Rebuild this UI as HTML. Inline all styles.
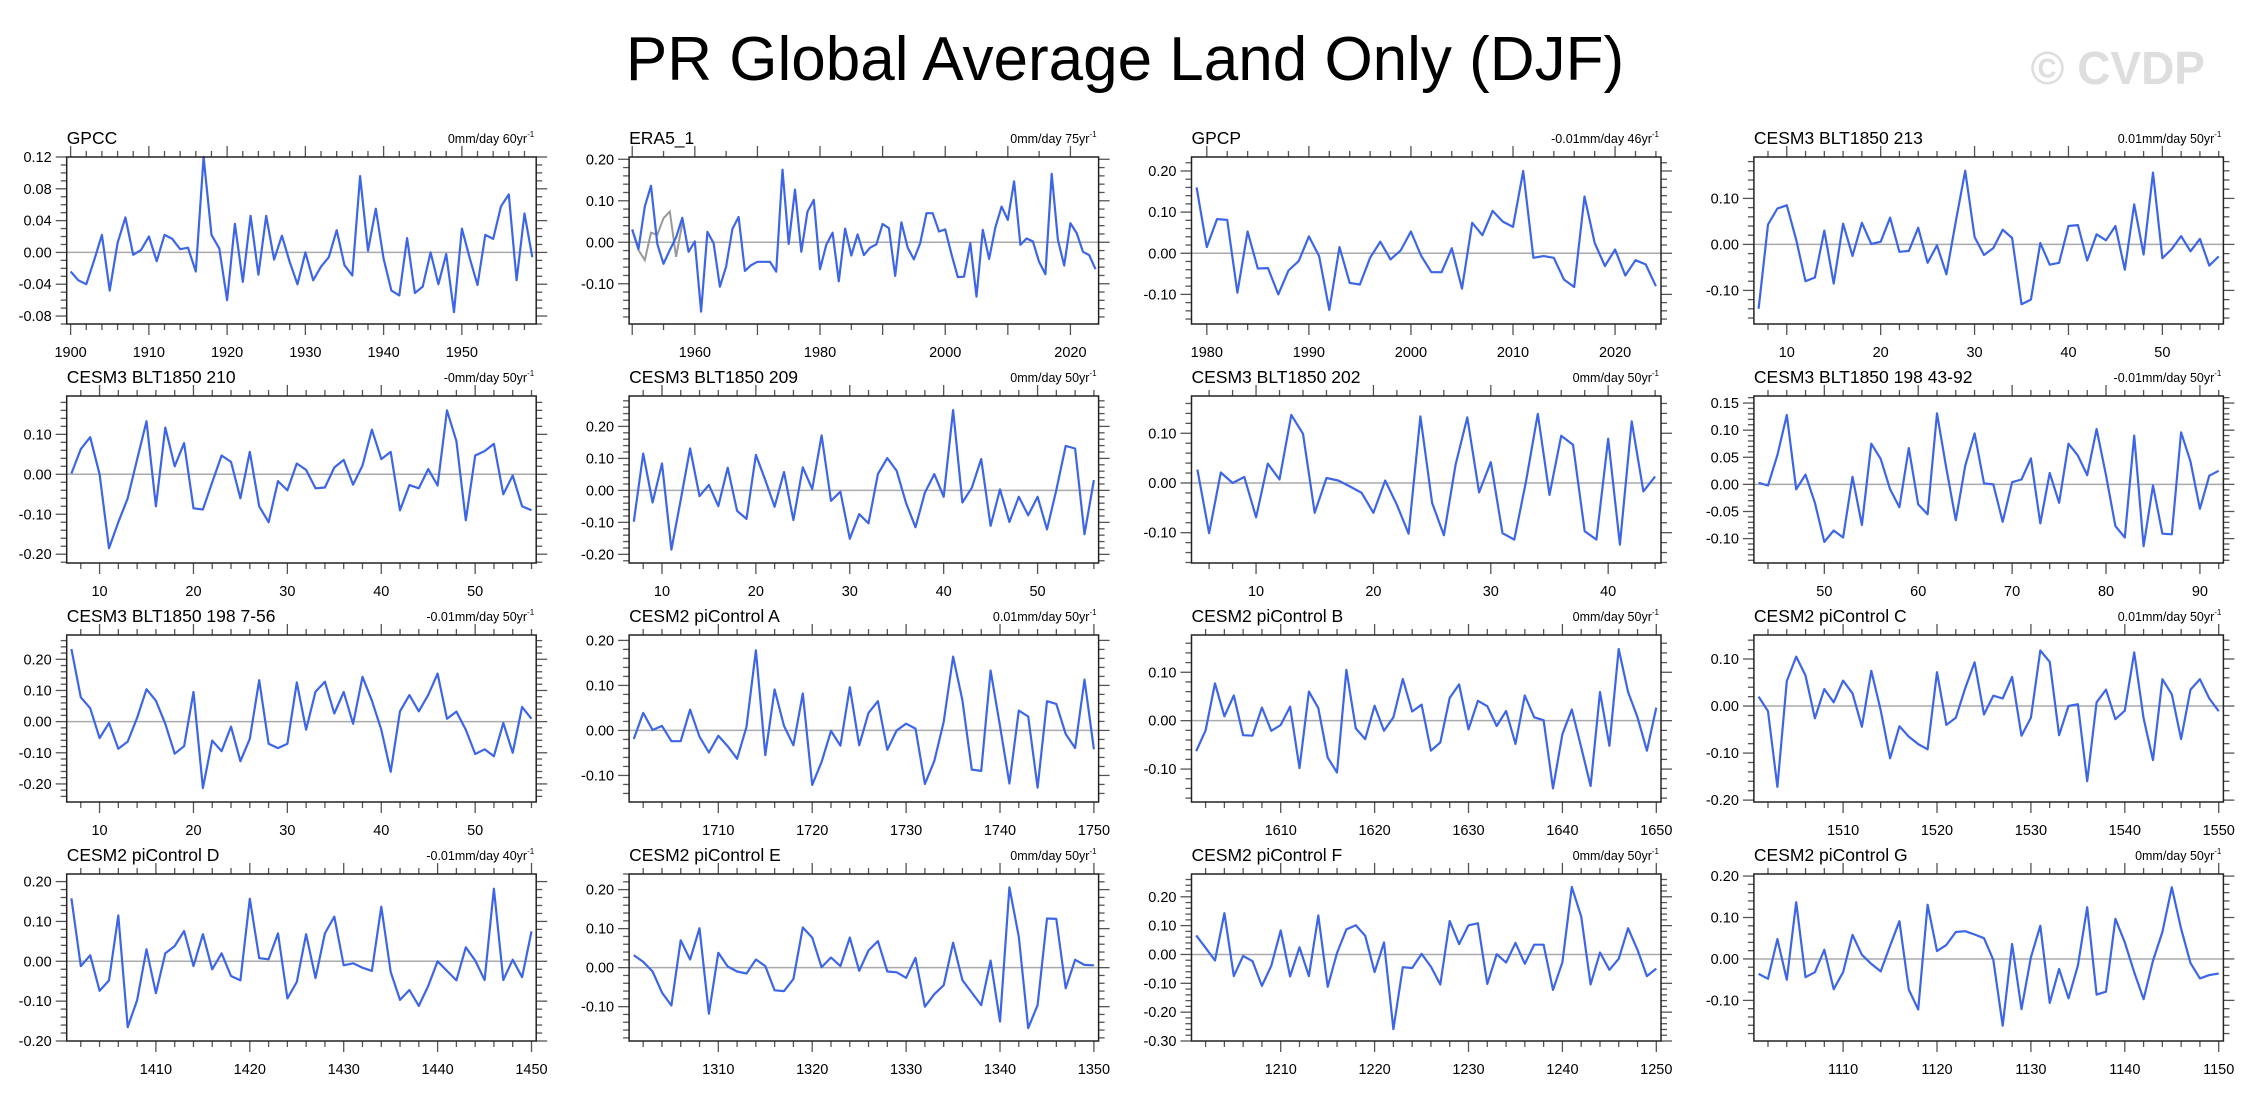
<!DOCTYPE html>
<html><head><meta charset="utf-8"><style>
html,body{margin:0;padding:0;background:#fff;}
svg{display:block;font-family:"Liberation Sans",Arial,sans-serif;}
</style></head><body>
<svg id="chart" width="2250" height="1103" viewBox="0 0 2250 1103" xmlns="http://www.w3.org/2000/svg">
<rect width="2250" height="1103" fill="#fff"/>
<text x="1125" y="80" text-anchor="middle" font-size="62" fill="#000">PR Global Average Land Only (DJF)</text>
<text x="2205" y="84" text-anchor="end" font-size="46" font-weight="bold" fill="#dedede">© CVDP</text>
</svg>
<script>
const titles = ["GPCC","ERA5_1","GPCP","CESM3 BLT1850 213","CESM3 BLT1850 210","CESM3 BLT1850 209","CESM3 BLT1850 202","CESM3 BLT1850 198 43-92","CESM3 BLT1850 198 7-56","CESM2 piControl A","CESM2 piControl B","CESM2 piControl C","CESM2 piControl D","CESM2 piControl E","CESM2 piControl F","CESM2 piControl G"];
const trendValues = ["0","0","-0.01","0.01","-0","0","0","-0.01","-0.01","0.01","0","0.01","-0.01","0","0","0"];
const trendYears = [60,75,46,50,50,50,50,50,50,50,50,50,40,50,50,50];
const startYears = [1900,1950,1979,7,7,7,5,43,7,1701,1601,1501,1401,1301,1201,1101];
const yMins = [-0.09,-0.197,-0.172,-0.173,-0.222,-0.227,-0.161,-0.145,-0.258,-0.159,-0.168,-0.204,-0.2,-0.188,-0.30,-0.198];
const yMaxs = [0.12,0.2055,0.234,0.19,0.196,0.295,0.175,0.163,0.278,0.212,0.177,0.151,0.219,0.240,0.279,0.205];
const yTickSteps = [0.04,0.1,0.1,0.1,0.1,0.1,0.1,0.05,0.1,0.1,0.1,0.1,0.1,0.1,0.1,0.1];
const xLabelSteps = [10,20,10,10,10,10,10,10,10,10,10,10,10,10,10,10];
const xMinorSteps = [2,5,2,2,2,2,2,2,2,2,2,2,2,2,2,2];

const gpcc = [-0.024,-0.035,-0.040,-0.01,0.022,-0.048,0.012,0.044,-0.003,0.003,0.020,-0.011,0.022,0.017,0.004,0.006,-0.024,0.12,0.022,0.005,-0.060,0.036,-0.037,0.046,-0.028,0.046,-0.009,0.021,-0.012,-0.040,0.000,-0.035,-0.018,-0.006,0.028,-0.016,-0.029,0.096,0.002,0.055,-0.008,-0.048,-0.054,0.018,-0.051,-0.043,0.000,-0.040,-0.002,-0.075,0.030,-0.007,-0.041,0.022,0.017,0.058,0.073,-0.035,0.049,-0.006];
const era5 = [0.031,-0.016,0.086,0.136,-0.004,-0.052,-0.019,0.012,0.059,-0.023,0.002,-0.167,0.025,-0.002,-0.107,-0.059,0.032,0.061,-0.069,-0.055,-0.047,-0.047,-0.047,-0.071,0.175,-0.004,0.127,-0.023,0.074,0.102,-0.065,-0.006,0.023,-0.094,0.033,-0.032,0.019,-0.031,-0.013,-0.005,0.044,0.034,-0.081,0.048,-0.013,-0.041,-0.002,0.070,0.070,0.026,0.031,-0.029,-0.084,-0.083,-0.002,-0.131,0.030,-0.040,0.035,0.086,0.054,0.147,-0.006,0.009,0.002,-0.047,-0.077,0.165,0.006,-0.056,0.046,0.022,-0.023,-0.031,-0.065];
const era5Gray = [0.03,-0.019,-0.043,0.023,0.018,0.058,0.074,-0.035,0.046];
const gpcp = [0.160,0.015,0.083,0.081,-0.096,0.053,-0.037,-0.036,-0.100,-0.042,-0.019,0.041,-0.007,-0.138,0.015,-0.072,-0.076,-0.011,0.028,-0.015,0.007,0.053,-0.006,-0.046,-0.046,0.012,-0.086,0.074,0.044,0.103,0.077,0.064,0.200,-0.011,-0.007,-0.011,-0.064,-0.082,0.138,0.025,-0.031,0.009,-0.054,-0.017,-0.027,-0.080];
const blt213 = [-0.14,0.043,0.078,0.085,0.01,-0.08,-0.072,0.03,-0.085,0.045,-0.025,0.047,0.001,0.006,0.058,-0.016,-0.014,0.036,-0.04,-0.002,-0.065,0.05,0.16,0.016,-0.023,-0.008,0.032,0.014,-0.13,-0.12,0.003,-0.044,-0.04,0.04,0.042,-0.035,0.022,0.009,0.04,-0.055,0.087,-0.022,0.156,-0.03,-0.01,0.018,-0.015,0.012,-0.046,-0.026];
const blt210 = [0.002,0.063,0.093,0.0,-0.185,-0.12,-0.06,0.037,0.133,-0.08,0.117,0.02,0.078,-0.085,-0.088,-0.02,0.047,0.031,-0.06,0.056,-0.08,-0.12,-0.017,-0.04,0.027,0.011,-0.035,-0.033,0.017,0.036,-0.026,0.022,0.112,0.038,0.056,-0.09,-0.027,-0.035,0.013,-0.028,0.16,0.083,-0.115,0.047,0.058,0.076,-0.05,-0.003,-0.08,-0.09];
const blt209 = [-0.098,0.115,-0.038,0.084,-0.185,-0.030,0.131,-0.018,0.017,-0.049,0.071,-0.064,-0.089,0.111,0.032,-0.051,0.057,-0.093,0.072,0.004,0.172,-0.033,-0.004,-0.151,-0.074,-0.103,0.051,0.101,0.061,-0.04,-0.115,-0.007,0.051,-0.02,0.251,-0.038,0.008,0.098,-0.111,0.003,-0.099,-0.02,-0.078,-0.02,-0.122,0.001,0.139,0.131,-0.137,0.032];
const blt202 = [0.027,-0.101,0.021,0.0,0.012,-0.069,0.039,0.007,0.137,0.099,-0.060,0.010,0.005,-0.007,-0.020,-0.060,0.005,-0.044,-0.102,0.134,-0.040,-0.105,0.037,0.132,-0.019,0.042,-0.101,-0.114,0.003,0.139,-0.024,0.095,0.077,-0.097,-0.114,0.089,-0.124,0.124,-0.017,0.013];
const blt198a = [0.003,-0.002,0.054,0.128,-0.009,0.018,-0.034,-0.106,-0.085,-0.098,0.014,-0.075,0.075,0.047,-0.009,-0.042,0.067,-0.037,-0.055,0.131,0.029,-0.066,0.034,0.094,0.002,0.0,-0.069,0.004,0.009,0.048,-0.072,0.021,-0.034,0.075,0.053,0.017,0.102,0.017,-0.077,-0.098,0.090,-0.114,-0.002,-0.091,-0.092,0.096,0.042,-0.045,0.016,0.025];
const blt198b = [0.233,0.078,0.043,-0.053,-0.004,-0.087,-0.064,0.012,0.104,0.067,-0.007,-0.103,-0.079,0.095,-0.213,-0.061,-0.095,-0.016,-0.127,-0.055,0.133,-0.071,-0.085,-0.071,0.126,-0.026,0.096,0.128,0.026,0.095,-0.007,0.144,0.067,-0.026,-0.161,0.033,0.085,0.033,0.085,0.154,0.009,0.032,-0.026,-0.104,-0.089,-0.111,-0.004,-0.100,0.047,0.009];
const picA = [-0.019,0.039,0.001,0.01,-0.024,-0.024,0.046,-0.014,-0.049,-0.012,-0.035,-0.063,0.008,0.178,-0.055,0.091,0.010,-0.033,0.082,-0.121,-0.070,-0.001,-0.034,0.096,-0.033,0.039,0.065,-0.043,0.0,0.015,0.004,-0.119,-0.068,0.019,0.164,0.067,-0.087,-0.090,0.133,0.01,-0.118,0.044,0.031,-0.127,0.065,0.059,-0.008,-0.039,0.113,-0.042];
const picB = [-0.063,-0.020,0.077,0.009,0.052,-0.030,-0.031,0.027,-0.021,-0.009,0.029,-0.098,0.060,0.026,-0.076,-0.107,0.105,-0.016,-0.038,0.031,-0.021,0.007,0.086,0.019,0.033,-0.062,-0.045,0.047,0.075,-0.018,0.041,0.030,-0.011,0.020,-0.048,0.052,0.007,0.001,-0.140,-0.028,0.023,-0.055,-0.135,0.059,-0.052,0.148,0.059,0.007,-0.062,0.027];
const picC = [0.020,-0.011,-0.172,0.053,0.105,0.065,-0.026,0.036,0.008,0.054,0.027,-0.044,0.075,-0.009,-0.111,-0.043,-0.065,-0.081,-0.092,0.072,-0.040,-0.025,0.038,0.093,-0.018,0.022,0.016,0.062,-0.063,-0.025,0.118,0.094,-0.062,0.0,0.004,-0.160,0.008,0.035,-0.028,-0.010,0.114,-0.026,-0.115,0.057,0.025,-0.070,0.035,0.057,0.016,-0.011];
const picD = [0.158,-0.012,0.015,-0.074,-0.048,0.115,-0.165,-0.098,0.03,-0.08,0.02,0.038,0.076,-0.012,0.068,-0.02,0.02,-0.037,-0.048,0.157,0.008,0.005,0.07,-0.093,-0.052,0.068,-0.042,0.07,0.112,-0.01,-0.005,-0.016,-0.024,0.137,-0.027,-0.097,-0.072,-0.112,-0.062,0.0,-0.024,-0.048,0.035,0.002,-0.047,0.182,-0.047,0.004,-0.04,0.075];
const picE = [0.032,0.015,-0.010,-0.064,-0.097,0.070,0.021,0.101,-0.118,0.038,0.003,-0.010,-0.015,0.021,0.004,-0.058,-0.060,-0.029,0.103,0.077,0.001,0.026,0.004,0.077,-0.008,0.044,0.068,-0.010,-0.012,-0.026,0.025,-0.100,-0.068,-0.045,0.064,-0.032,-0.064,-0.096,0.018,-0.138,0.206,0.079,-0.155,-0.096,0.126,0.125,-0.053,0.020,0.007,0.006];
const picF = [0.066,0.023,-0.021,0.143,-0.075,-0.005,-0.023,-0.109,-0.039,0.083,-0.076,0.025,-0.075,0.135,-0.112,0.005,0.087,0.101,0.065,-0.061,0.042,-0.259,-0.044,-0.047,0.002,-0.042,-0.104,0.116,0.036,0.101,0.108,-0.102,0.001,-0.028,0.040,-0.032,0.034,0.034,-0.123,-0.027,0.234,0.132,-0.104,0.007,-0.053,-0.015,0.091,0.016,-0.075,-0.049];
const picG = [-0.036,-0.048,0.048,-0.050,0.137,-0.044,-0.032,0.022,-0.073,-0.032,0.058,0.010,-0.012,-0.030,0.032,0.091,-0.074,-0.122,0.131,0.019,0.034,0.065,0.067,0.059,0.050,-0.002,-0.161,0.036,-0.121,0.004,0.080,-0.106,-0.024,-0.095,-0.016,0.125,-0.086,-0.079,0.097,0.040,-0.032,-0.097,-0.004,0.065,0.173,0.073,-0.010,-0.047,-0.039,-0.035];

const seriesList = [gpcc,era5,gpcp,blt213,blt210,blt209,blt202,blt198a,blt198b,picA,picB,picC,picD,picE,picF,picG];
const panelNames = ["gpcc","era5","gpcp","blt213","blt210","blt209","blt202","blt198-43-92","blt198-7-56","picontrol-a","picontrol-b","picontrol-c","picontrol-d","picontrol-e","picontrol-f","picontrol-g"];

const NS = "http://www.w3.org/2000/svg";
const svg = document.getElementById("chart");
function mk(tag, attrs, parent){ const e=document.createElementNS(NS,tag); for(const k in attrs) e.setAttribute(k,attrs[k]); (parent||svg).appendChild(e); return e; }

const colLeft0 = 66.7, colStep = 562.4, boxW = 469.5;
const rowTop0 = 157, rowStep = 239, boxH = 167;

seriesList.forEach((vals, i) => {
  const col = i % 4, row = Math.floor(i / 4);
  const L = colLeft0 + col*colStep, T = rowTop0 + row*rowStep, R = L + boxW, B = T + boxH;
  const x0 = startYears[i] - 0.5, x1 = startYears[i] + vals.length - 0.5;
  const ymin = yMins[i], ymax = yMaxs[i];
  const xs = v => L + (v - x0) / (x1 - x0) * boxW;
  const ys = v => B - (v - ymin) / (ymax - ymin) * boxH;

  const g = mk("g", {});
  
  

  const tt = mk("text", {x:L, y:T-13, "font-size":"17.5", fill:"#000"}, g);
  
  
  tt.textContent = titles[i];

  const tr = mk("text", {x:R-2, y:T-14, "font-size":"12.5", "text-anchor":"end", fill:"#000"}, g);
  
  
  tr.textContent = trendValues[i] + "mm/day " + trendYears[i] + "yr";
  const sup = mk("tspan", {dy:"-6", "font-size":"8"}, tr);
  sup.textContent = "-1";

  const z = mk("line", {x1:L, x2:R, y1:ys(0), y2:ys(0), stroke:"#aaa", "stroke-width":"1.5"}, g);
  
  

  const st = yTickSteps[i], minorSt = st === 0.04 ? 0.01 : (st === 0.05 ? 0.01 : 0.02);
  for (let k = Math.ceil(ymin/minorSt - 1e-6); k*minorSt <= ymax + 1e-6; k++) {
    const v = k*minorSt, y = ys(v);
    const isMajor = Math.abs(v/st - Math.round(v/st)) < 1e-6;
    const len = isMajor ? 11 : 6;
    mk("line", {x1:L-len, x2:L, y1:y, y2:y, stroke:"#555", "stroke-width":"1.3"}, g);
    mk("line", {x1:R, x2:R+len, y1:y, y2:y, stroke:"#555", "stroke-width":"1.3"}, g);
    if (isMajor) {
      const lab = mk("text", {x:L-15, y:y+5, "font-size":"14.5", "text-anchor":"end", fill:"#000"}, g);
      
      
      const r = Math.round(v/st)*st;
      lab.textContent = (Math.abs(r) < 1e-9 ? 0 : r).toFixed(2);
    }
  }
  const ms = xMinorSteps[i], ls = xLabelSteps[i];
  for (let yv = Math.ceil(x0/ms)*ms; yv <= x1; yv += ms) {
    const x = xs(yv);
    const isMajor = yv % 10 === 0;
    const len = isMajor ? 11 : 6;
    mk("line", {x1:x, x2:x, y1:T-len, y2:T, stroke:"#555", "stroke-width":"1.3"}, g);
    mk("line", {x1:x, x2:x, y1:B, y2:B+len, stroke:"#555", "stroke-width":"1.3"}, g);
    if (yv % ls === 0) {
      const lab = mk("text", {x:x, y:B+33, "font-size":"14.5", "text-anchor":"middle", fill:"#000"}, g);
      
      
      lab.textContent = yv;
    }
  }
  if (i === 1) {
    const gp = mk("polyline", {fill:"none", stroke:"#999", "stroke-width":"2", points: era5Gray.map((v,k)=>xs(startYears[i]+k).toFixed(1)+","+ys(v).toFixed(1)).join(" ")}, g);
    
    
  }
  const pl = mk("polyline", {fill:"none", stroke:"#3d66e6", "stroke-width":"2.2", "stroke-linejoin":"round", points: vals.map((v,k)=>xs(startYears[i]+k).toFixed(1)+","+ys(v).toFixed(1)).join(" ")}, g);
  
  

  const box = mk("rect", {x:L, y:T, width:boxW, height:boxH, fill:"none", stroke:"#222", "stroke-width":"1.5"}, g);
  
  
});
</script>
</body></html>
